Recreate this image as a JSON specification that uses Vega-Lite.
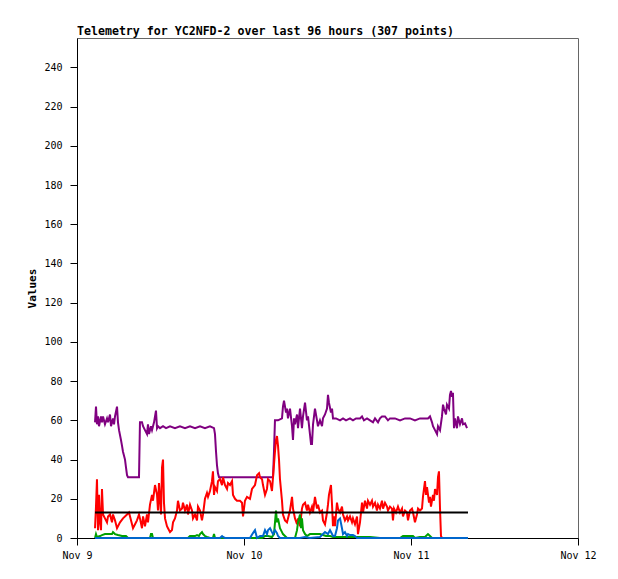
{
  "$schema": "https://vega.github.io/schema/vega-lite/v6.json",
  "width": 501,
  "height": 500,
  "autosize": {"type": "none"},
  "padding": {"left": 77, "top": 38, "right": 40, "bottom": 41},
  "background": "white",
  "title": {
    "text": "Telemetry for YC2NFD-2 over last 96 hours (307 points)",
    "anchor": "start",
    "frame": "group",
    "font": "DejaVu Sans Mono",
    "fontSize": 11.6,
    "fontWeight": "bold",
    "color": "black",
    "offset": 0
  },
  "config": {
    "view": {"stroke": "#666666", "strokeWidth": 1},
    "axis": {
      "grid": false,
      "domainColor": "black",
      "domainWidth": 1,
      "tickColor": "black",
      "tickSize": 7,
      "labelFont": "DejaVu Sans Mono",
      "labelFontSize": 10,
      "labelColor": "black",
      "titleFont": "DejaVu Sans Mono",
      "titleFontSize": 11,
      "titleFontWeight": "bold",
      "titleColor": "black"
    }
  },
  "datasets": {
    "purple": [
      {"h":2.59,"v":59},{"h":2.73,"v":67},{"h":2.87,"v":58},{"h":3.02,"v":62},{"h":3.16,"v":57},{"h":3.45,"v":62},{"h":3.59,"v":59},{"h":3.74,"v":62},{"h":4.02,"v":58},{"h":4.31,"v":61},{"h":4.46,"v":59},{"h":4.74,"v":63},{"h":4.89,"v":57},{"h":5.17,"v":61},{"h":5.32,"v":58},{"h":5.46,"v":62},{"h":5.75,"v":67},{"h":5.89,"v":59},{"h":6.04,"v":55},{"h":6.32,"v":50},{"h":6.47,"v":47},{"h":6.61,"v":44},{"h":6.90,"v":40},{"h":7.04,"v":36},{"h":7.19,"v":32},{"h":7.33,"v":31},{"h":8.91,"v":31},{"h":9.05,"v":59},{"h":9.34,"v":59},{"h":9.49,"v":57},{"h":9.77,"v":55},{"h":10.06,"v":53},{"h":10.20,"v":58},{"h":10.35,"v":53},{"h":10.63,"v":57},{"h":10.78,"v":55},{"h":11.07,"v":59},{"h":11.35,"v":65},{"h":11.50,"v":56},{"h":11.64,"v":57},{"h":11.93,"v":56},{"h":12.36,"v":57},{"h":12.79,"v":56},{"h":13.37,"v":57},{"h":14.08,"v":56},{"h":14.80,"v":57},{"h":15.52,"v":56},{"h":16.24,"v":57},{"h":16.96,"v":56},{"h":17.68,"v":57},{"h":18.39,"v":56},{"h":19.11,"v":57},{"h":19.69,"v":56},{"h":19.83,"v":53},{"h":19.98,"v":44},{"h":20.12,"v":37},{"h":20.26,"v":33},{"h":20.41,"v":31},{"h":28.17,"v":31},{"h":28.31,"v":44},{"h":28.45,"v":60},{"h":28.89,"v":60},{"h":29.46,"v":61},{"h":29.60,"v":67},{"h":29.75,"v":70},{"h":30.04,"v":64},{"h":30.18,"v":66},{"h":30.32,"v":61},{"h":30.61,"v":66},{"h":30.90,"v":57},{"h":31.04,"v":50},{"h":31.19,"v":61},{"h":31.33,"v":58},{"h":31.62,"v":63},{"h":31.76,"v":56},{"h":32.05,"v":66},{"h":32.33,"v":56},{"h":32.48,"v":62},{"h":32.77,"v":69},{"h":33.05,"v":60},{"h":33.20,"v":62},{"h":33.48,"v":53},{"h":33.63,"v":48},{"h":33.77,"v":48},{"h":33.92,"v":58},{"h":34.20,"v":66},{"h":34.49,"v":60},{"h":34.63,"v":57},{"h":34.92,"v":60},{"h":35.21,"v":57},{"h":35.35,"v":61},{"h":35.64,"v":63},{"h":35.93,"v":66},{"h":36.07,"v":73},{"h":36.21,"v":69},{"h":36.50,"v":64},{"h":36.65,"v":66},{"h":36.79,"v":61},{"h":37.22,"v":61},{"h":37.80,"v":60},{"h":38.23,"v":61},{"h":38.66,"v":60},{"h":39.23,"v":61},{"h":39.66,"v":60},{"h":40.10,"v":61},{"h":40.67,"v":61},{"h":40.96,"v":62},{"h":41.24,"v":60},{"h":41.68,"v":61},{"h":42.11,"v":60},{"h":42.54,"v":59},{"h":42.83,"v":61},{"h":43.26,"v":59},{"h":43.54,"v":61},{"h":43.83,"v":62},{"h":44.26,"v":62},{"h":44.69,"v":60},{"h":44.98,"v":61},{"h":45.70,"v":61},{"h":46.42,"v":60},{"h":47.14,"v":61},{"h":47.86,"v":61},{"h":48.57,"v":60},{"h":49.29,"v":61},{"h":50.01,"v":61},{"h":50.44,"v":61},{"h":50.73,"v":62},{"h":51.02,"v":59},{"h":51.16,"v":57},{"h":51.45,"v":55},{"h":51.74,"v":53},{"h":51.88,"v":57},{"h":52.17,"v":55},{"h":52.45,"v":62},{"h":52.60,"v":68},{"h":52.74,"v":66},{"h":53.03,"v":63},{"h":53.17,"v":68},{"h":53.46,"v":66},{"h":53.60,"v":73},{"h":53.75,"v":75},{"h":53.89,"v":72},{"h":54.03,"v":74},{"h":54.18,"v":56},{"h":54.32,"v":61},{"h":54.61,"v":56},{"h":54.75,"v":62},{"h":55.04,"v":58},{"h":55.33,"v":61},{"h":55.47,"v":58},{"h":55.76,"v":58.5},{"h":56.05,"v":56}
    ],
    "red": [
      {"h":2.59,"v":5},{"h":2.73,"v":16},{"h":2.87,"v":30},{"h":3.02,"v":4},{"h":3.16,"v":22},{"h":3.31,"v":8},{"h":3.45,"v":4},{"h":3.59,"v":25},{"h":3.74,"v":12},{"h":4.02,"v":10},{"h":4.31,"v":8},{"h":4.46,"v":11},{"h":4.74,"v":12},{"h":5.03,"v":8},{"h":5.17,"v":12},{"h":5.46,"v":9},{"h":5.75,"v":5},{"h":6.18,"v":8},{"h":6.61,"v":10},{"h":7.19,"v":12},{"h":7.47,"v":13},{"h":7.76,"v":9},{"h":8.05,"v":5},{"h":8.34,"v":7},{"h":8.62,"v":9},{"h":8.91,"v":12},{"h":9.05,"v":10},{"h":9.34,"v":5},{"h":9.49,"v":11},{"h":9.77,"v":6},{"h":10.06,"v":12},{"h":10.20,"v":8},{"h":10.49,"v":17},{"h":10.78,"v":22},{"h":10.92,"v":19},{"h":11.21,"v":27},{"h":11.50,"v":22},{"h":11.64,"v":14},{"h":11.78,"v":28},{"h":12.07,"v":12},{"h":12.22,"v":36},{"h":12.36,"v":40},{"h":12.50,"v":18},{"h":12.65,"v":10},{"h":12.93,"v":6},{"h":13.08,"v":5},{"h":13.37,"v":3},{"h":13.65,"v":4},{"h":13.80,"v":8},{"h":14.08,"v":10},{"h":14.37,"v":14},{"h":14.51,"v":19},{"h":14.80,"v":14},{"h":15.09,"v":15},{"h":15.23,"v":18},{"h":15.52,"v":14},{"h":15.81,"v":17},{"h":15.95,"v":12},{"h":16.24,"v":17},{"h":16.53,"v":14},{"h":16.67,"v":10},{"h":16.96,"v":12},{"h":17.25,"v":9},{"h":17.39,"v":16},{"h":17.68,"v":14},{"h":17.96,"v":9},{"h":18.11,"v":12},{"h":18.39,"v":20},{"h":18.68,"v":23},{"h":18.83,"v":21},{"h":19.11,"v":24},{"h":19.40,"v":29},{"h":19.54,"v":34},{"h":19.69,"v":22},{"h":19.83,"v":26},{"h":20.12,"v":24},{"h":20.26,"v":29},{"h":20.55,"v":30},{"h":20.84,"v":27},{"h":20.98,"v":31},{"h":21.27,"v":27},{"h":21.56,"v":25},{"h":21.70,"v":28},{"h":21.99,"v":27},{"h":22.28,"v":29},{"h":22.42,"v":22},{"h":22.71,"v":20},{"h":22.99,"v":19},{"h":23.42,"v":19},{"h":23.71,"v":18},{"h":23.86,"v":11},{"h":24.14,"v":19},{"h":24.43,"v":21},{"h":24.86,"v":20},{"h":25.15,"v":25},{"h":25.58,"v":27},{"h":25.87,"v":32},{"h":26.16,"v":33},{"h":26.30,"v":31},{"h":26.59,"v":30},{"h":26.73,"v":27},{"h":27.02,"v":22},{"h":27.30,"v":25},{"h":27.45,"v":30},{"h":27.74,"v":29},{"h":28.02,"v":24},{"h":28.17,"v":31},{"h":28.45,"v":44},{"h":28.60,"v":50},{"h":28.74,"v":52},{"h":28.89,"v":47},{"h":29.03,"v":40},{"h":29.17,"v":30},{"h":29.46,"v":19},{"h":29.60,"v":12},{"h":29.89,"v":9},{"h":30.18,"v":8},{"h":30.32,"v":10},{"h":30.61,"v":14},{"h":30.90,"v":21},{"h":31.04,"v":15},{"h":31.33,"v":10},{"h":31.62,"v":7},{"h":31.76,"v":10},{"h":32.05,"v":6},{"h":32.33,"v":15},{"h":32.48,"v":17},{"h":32.77,"v":18},{"h":33.05,"v":14},{"h":33.20,"v":17},{"h":33.48,"v":13},{"h":33.77,"v":16},{"h":33.92,"v":13},{"h":34.20,"v":21},{"h":34.49,"v":15},{"h":34.63,"v":17},{"h":34.92,"v":13},{"h":35.21,"v":14},{"h":35.35,"v":9},{"h":35.64,"v":7},{"h":35.93,"v":13},{"h":36.07,"v":17},{"h":36.21,"v":22},{"h":36.50,"v":27},{"h":36.65,"v":17},{"h":36.79,"v":6},{"h":36.93,"v":11},{"h":37.08,"v":6},{"h":37.36,"v":18},{"h":37.51,"v":15},{"h":37.80,"v":13},{"h":38.08,"v":16},{"h":38.23,"v":12},{"h":38.51,"v":9},{"h":38.80,"v":11},{"h":38.95,"v":9},{"h":39.23,"v":11},{"h":39.52,"v":8},{"h":39.66,"v":10},{"h":39.95,"v":7},{"h":40.24,"v":11},{"h":40.38,"v":2},{"h":40.67,"v":8},{"h":40.96,"v":18},{"h":41.10,"v":13},{"h":41.39,"v":19},{"h":41.68,"v":15},{"h":41.82,"v":19},{"h":42.11,"v":17},{"h":42.39,"v":19},{"h":42.54,"v":16},{"h":42.83,"v":18},{"h":43.11,"v":14},{"h":43.26,"v":17},{"h":43.54,"v":15},{"h":43.83,"v":19},{"h":43.98,"v":15},{"h":44.26,"v":18},{"h":44.55,"v":16},{"h":44.69,"v":14},{"h":44.98,"v":16},{"h":45.27,"v":15},{"h":45.41,"v":9},{"h":45.56,"v":15},{"h":45.84,"v":13},{"h":46.13,"v":16},{"h":46.42,"v":13},{"h":46.71,"v":15},{"h":46.85,"v":11},{"h":47.14,"v":14},{"h":47.42,"v":13},{"h":47.57,"v":9},{"h":47.86,"v":14},{"h":48.14,"v":15},{"h":48.29,"v":13},{"h":48.57,"v":8},{"h":48.86,"v":12},{"h":49.01,"v":15},{"h":49.29,"v":14},{"h":49.58,"v":15},{"h":49.72,"v":21},{"h":50.01,"v":29},{"h":50.15,"v":22},{"h":50.30,"v":26},{"h":50.59,"v":18},{"h":50.73,"v":21},{"h":50.87,"v":16},{"h":51.16,"v":22},{"h":51.30,"v":19},{"h":51.45,"v":25},{"h":51.74,"v":22},{"h":51.88,"v":31},{"h":52.02,"v":34},{"h":52.17,"v":15},{"h":52.31,"v":1},{"h":52.45,"v":0}
    ],
    "green": [
      {"h":2.59,"v":0},{"h":2.73,"v":2},{"h":2.87,"v":0.5},{"h":3.31,"v":1},{"h":3.59,"v":1.5},{"h":4.02,"v":2},{"h":4.46,"v":2},{"h":5.03,"v":2},{"h":5.17,"v":3},{"h":5.46,"v":2},{"h":5.89,"v":1.5},{"h":6.47,"v":1},{"h":7.04,"v":1},{"h":7.33,"v":0},{"h":10.49,"v":0},{"h":10.63,"v":2},{"h":10.78,"v":2},{"h":10.92,"v":0},{"h":15.95,"v":0},{"h":16.24,"v":1},{"h":16.96,"v":1},{"h":17.25,"v":1.5},{"h":17.53,"v":1},{"h":17.68,"v":2},{"h":17.96,"v":3},{"h":18.11,"v":2},{"h":18.39,"v":1},{"h":18.68,"v":0.5},{"h":19.11,"v":0},{"h":19.54,"v":0},{"h":19.69,"v":2},{"h":19.83,"v":0},{"h":26.59,"v":0},{"h":27.02,"v":1},{"h":27.45,"v":1},{"h":28.02,"v":0.5},{"h":28.31,"v":2},{"h":28.60,"v":14},{"h":28.74,"v":8},{"h":28.89,"v":10},{"h":29.17,"v":5},{"h":29.46,"v":3},{"h":29.60,"v":2},{"h":29.89,"v":1},{"h":30.18,"v":0},{"h":31.33,"v":0},{"h":31.62,"v":4},{"h":31.76,"v":8},{"h":32.05,"v":12},{"h":32.19,"v":5},{"h":32.33,"v":10},{"h":32.48,"v":4},{"h":32.77,"v":2},{"h":33.05,"v":1},{"h":33.48,"v":2},{"h":33.92,"v":2},{"h":34.35,"v":2},{"h":34.92,"v":2},{"h":35.35,"v":1.5},{"h":35.78,"v":1},{"h":36.36,"v":1},{"h":36.79,"v":0.5},{"h":37.80,"v":0.5},{"h":39.23,"v":0.5},{"h":40.67,"v":0.5},{"h":42.11,"v":0.5},{"h":43.54,"v":0},{"h":46.42,"v":0},{"h":46.85,"v":1},{"h":47.57,"v":1},{"h":48.29,"v":1},{"h":48.57,"v":0},{"h":49.29,"v":0.5},{"h":50.01,"v":0.5},{"h":50.44,"v":2},{"h":50.73,"v":1},{"h":51.02,"v":0},{"h":56.19,"v":0}
    ],
    "blue": [
      {"h":2.59,"v":0},{"h":20.55,"v":0},{"h":20.84,"v":1},{"h":20.98,"v":0.5},{"h":21.27,"v":0},{"h":24.86,"v":0},{"h":25.29,"v":2.5},{"h":25.58,"v":4},{"h":25.87,"v":0},{"h":26.30,"v":1},{"h":26.73,"v":1},{"h":27.02,"v":4},{"h":27.30,"v":2},{"h":27.45,"v":4},{"h":27.74,"v":5},{"h":28.02,"v":3},{"h":28.17,"v":2},{"h":28.45,"v":4},{"h":28.74,"v":2.5},{"h":28.89,"v":1},{"h":29.17,"v":0},{"h":32.05,"v":0},{"h":32.77,"v":0.5},{"h":33.48,"v":0},{"h":34.92,"v":0.5},{"h":35.64,"v":3},{"h":36.07,"v":2},{"h":36.36,"v":4},{"h":36.65,"v":2},{"h":36.79,"v":1},{"h":37.08,"v":1},{"h":37.36,"v":5},{"h":37.51,"v":9},{"h":37.80,"v":10},{"h":38.08,"v":5},{"h":38.23,"v":2},{"h":38.51,"v":3},{"h":38.80,"v":1},{"h":38.95,"v":2},{"h":39.23,"v":1.5},{"h":39.66,"v":1.5},{"h":39.95,"v":1},{"h":40.24,"v":0},{"h":56.19,"v":0}
    ],
    "black": [
      {"h":2.59,"v":13},{"h":56.19,"v":13}
    ]
  },
  "encoding": {
    "x": {
      "field": "h",
      "type": "quantitative",
      "scale": {"domain": [0, 72], "nice": false, "zero": false},
      "axis": {
        "title": null,
        "values": [0, 24, 48, 72],
        "labelExpr": "datum.value == 0 ? 'Nov 9' : datum.value == 24 ? 'Nov 10' : datum.value == 48 ? 'Nov 11' : 'Nov 12'",
        "labelPadding": 5,
        "labelFlush": false,
        "labelOverlap": false
      }
    },
    "y": {
      "field": "v",
      "type": "quantitative",
      "scale": {"domain": [0, 255], "nice": false},
      "axis": {
        "title": "Values",
        "values": [0, 20, 40, 60, 80, 100, 120, 140, 160, 180, 200, 220, 240],
        "labelPadding": 8,
        "titlePadding": 6,
        "labelFlush": false,
        "labelOverlap": false
      }
    }
  },
  "layer": [
    {"data": {"name": "purple"}, "mark": {"type": "line", "color": "#800080", "strokeWidth": 2}},
    {"data": {"name": "red"}, "mark": {"type": "line", "color": "#ff0000", "strokeWidth": 2}},
    {"data": {"name": "green"}, "mark": {"type": "line", "color": "#00a000", "strokeWidth": 2}},
    {"data": {"name": "blue"}, "mark": {"type": "line", "color": "#0066cc", "strokeWidth": 2}},
    {"data": {"name": "black"}, "mark": {"type": "line", "color": "#000000", "strokeWidth": 2}}
  ]
}
